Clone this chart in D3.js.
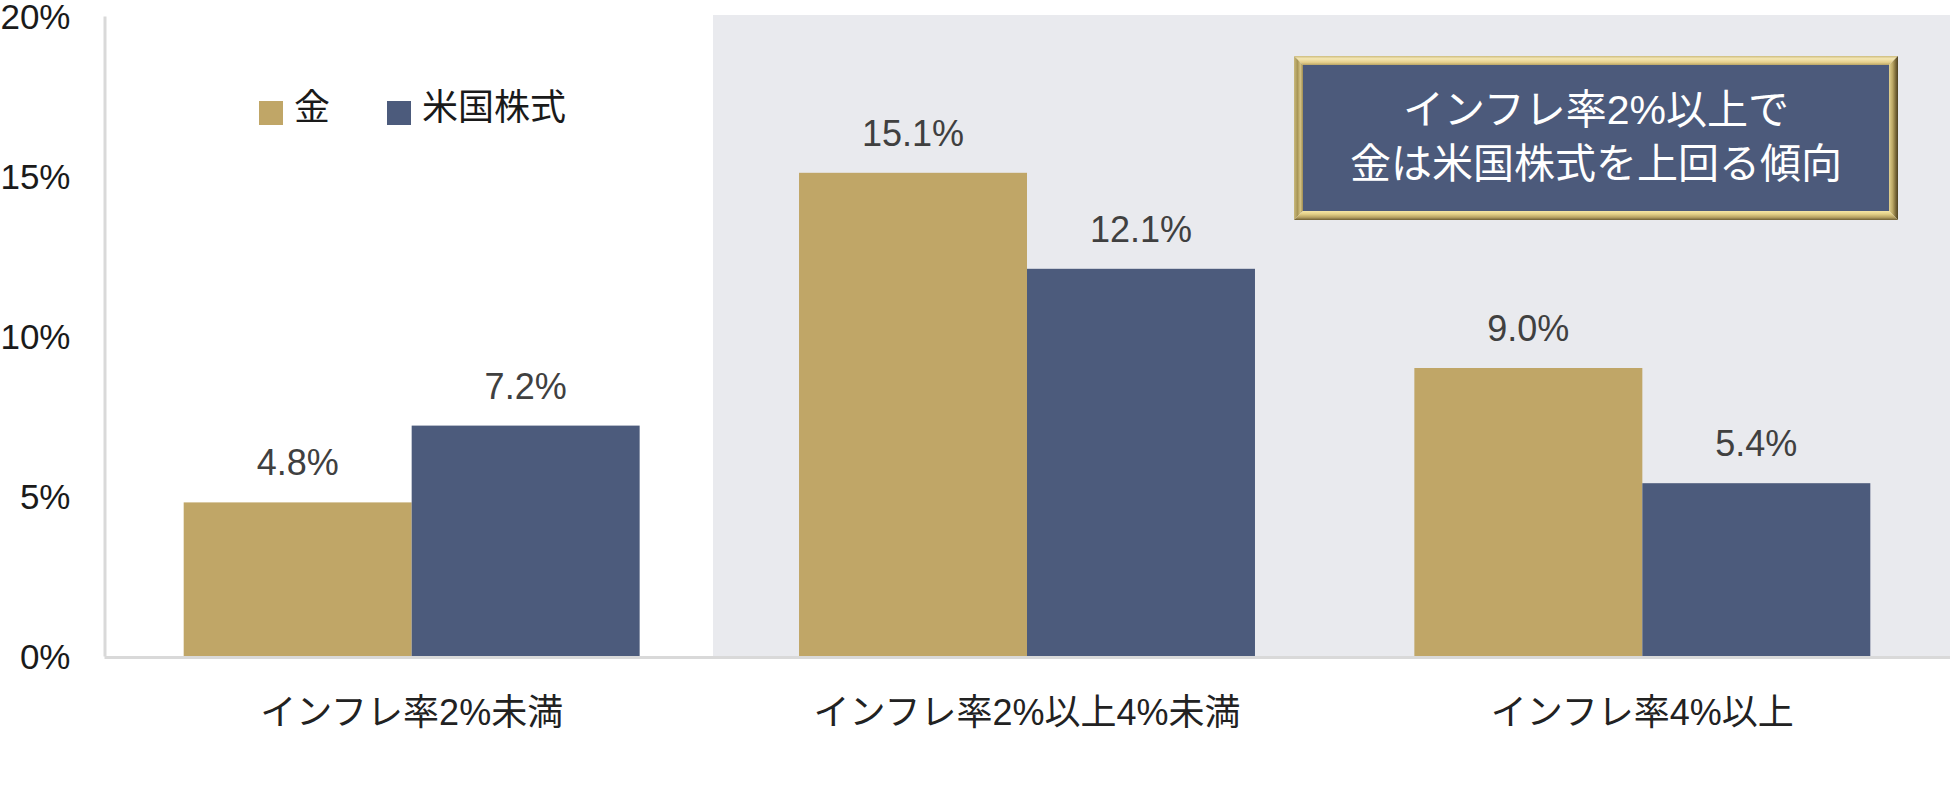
<!DOCTYPE html>
<html>
<head>
<meta charset="utf-8">
<script src="https://cdn.jsdelivr.net/npm/d3@7"></script>
<style>
  html, body { margin: 0; padding: 0; background: #ffffff; }
  svg { display: block; }
</style>
</head>
<body>
<div id="chart"></div>
<script>
const categories = ["インフレ率2%未満", "インフレ率2%以上4%未満", "インフレ率4%以上"];
const seriesNames = ["金", "米国株式"];
const goldValues = [4.8, 15.1, 9.0];
const stockValues = [7.2, 12.1, 5.4];
const yTicks = [0, 5, 10, 15, 20];
const noteLines = ["インフレ率2%以上で", "金は米国株式を上回る傾向"];

const W = 1950, H = 804;
const GOLD = "#C0A667", BLUE = "#4C5B7C";
const LATIN = "'Liberation Sans', Arial, 'Noto Sans CJK JP', sans-serif";

const svg = d3.select("#chart").append("svg")
  .attr("width", W).attr("height", H);

const plot = { left: 104, right: 1950, top: 16, bottom: 656 };

const x0 = d3.scaleBand().domain(categories)
  .range([plot.left, plot.right]).paddingInner(0.259).paddingOuter(0.1295);
const x1 = d3.scaleBand().domain(seriesNames).range([0, x0.bandwidth()]).padding(0);
const y = d3.scaleLinear().domain([0, 20]).range([plot.bottom, plot.top]);

// shaded highlight region (categories 2 and 3)
svg.append("rect")
  .attr("x", 713).attr("y", 15)
  .attr("width", W - 713).attr("height", plot.bottom - 15)
  .attr("fill", "#E9EAEE");

// bars
const rows = categories.map((c, i) => ({ cat: c, vals: [
  { s: seriesNames[0], v: goldValues[i], color: GOLD },
  { s: seriesNames[1], v: stockValues[i], color: BLUE }
]}));

const groups = svg.selectAll("g.grp").data(rows).enter().append("g")
  .attr("class", "grp")
  .attr("transform", d => `translate(${x0(d.cat)},0)`);

groups.selectAll("rect").data(d => d.vals).enter().append("rect")
  .attr("x", d => x1(d.s))
  .attr("y", d => y(d.v))
  .attr("width", x1.bandwidth())
  .attr("height", d => y(0) - y(d.v))
  .attr("fill", d => d.color);

groups.selectAll("text").data(d => d.vals).enter().append("text")
  .attr("x", d => x1(d.s) + x1.bandwidth() / 2)
  .attr("y", d => y(d.v) - 27)
  .attr("text-anchor", "middle")
  .attr("font-family", LATIN)
  .attr("font-size", 36)
  .attr("fill", "#404040")
  .text(d => d.v.toFixed(1) + "%");

// y axis
const yAxis = svg.append("g")
  .attr("transform", `translate(${plot.left + 0.5},0)`)
  .call(d3.axisLeft(y).tickValues(yTicks).tickFormat(d => d + "%").tickSize(0).tickPadding(34));
yAxis.select(".domain").attr("stroke", "#D9D9D9").attr("stroke-width", 3);
yAxis.selectAll("text")
  .attr("font-family", LATIN).attr("font-size", 35).attr("fill", "#1a1a1a")
  .attr("dy", "0.35em");

// x axis
const xAxis = svg.append("g")
  .attr("transform", `translate(0,${plot.bottom + 1})`)
  .call(d3.axisBottom(x0).tickSize(0).tickSizeOuter(0));
xAxis.select(".domain").attr("stroke", "#D9D9D9").attr("stroke-width", 3);
xAxis.selectAll("text")
  .attr("dy", null).attr("y", 68)
  .attr("font-family", LATIN).attr("font-size", 36).attr("fill", "#222222");

// legend
const legend = svg.append("g");
const legendItems = [
  { name: seriesNames[0], color: GOLD, x: 259, tx: 294 },
  { name: seriesNames[1], color: BLUE, x: 387, tx: 422 }
];
legendItems.forEach(it => {
  legend.append("rect").attr("x", it.x).attr("y", 101).attr("width", 24).attr("height", 24).attr("fill", it.color);
  legend.append("text").attr("x", it.tx).attr("y", 120)
    .attr("font-family", "'Noto Sans CJK JP', sans-serif").attr("font-size", 36).attr("fill", "#1a1a1a")
    .text(it.name);
});

// annotation box with gold bevel frame
const bx = 1294, by = 56, bw = 604, bh = 164, t = 9;
const defs = svg.append("defs");
function grad(id, x1_, y1_, x2_, y2_, stops) {
  const g = defs.append("linearGradient").attr("id", id)
    .attr("x1", x1_).attr("y1", y1_).attr("x2", x2_).attr("y2", y2_);
  stops.forEach(s => g.append("stop").attr("offset", s[0]).attr("stop-color", s[1]));
}
grad("gTop", "0", "0", "0", "1", [[0, "#CDBC7E"], [0.3, "#F4E7B4"], [0.7, "#E6D08C"], [1, "#B9A566"]]);
grad("gLeft", "0", "0", "1", "0", [[0, "#C9B97C"], [0.4, "#A89656"], [0.7, "#D5C384"], [1, "#9E8C52"]]);
grad("gRight", "0", "0", "1", "0", [[0, "#E2D190"], [0.4, "#BBA765"], [0.75, "#7A6838"], [1, "#4E4222"]]);
grad("gBottom", "0", "0", "0", "1", [[0, "#F5E6A6"], [0.35, "#E3CF86"], [0.7, "#B7A263"], [1, "#6F5F34"]]);

const frame = svg.append("g");
frame.append("polygon").attr("points", `${bx},${by} ${bx+bw},${by} ${bx+bw-t},${by+t} ${bx+t},${by+t}`).attr("fill", "url(#gTop)");
frame.append("polygon").attr("points", `${bx},${by} ${bx+t},${by+t} ${bx+t},${by+bh-t} ${bx},${by+bh}`).attr("fill", "url(#gLeft)");
frame.append("polygon").attr("points", `${bx+bw},${by} ${bx+bw},${by+bh} ${bx+bw-t},${by+bh-t} ${bx+bw-t},${by+t}`).attr("fill", "url(#gRight)");
frame.append("polygon").attr("points", `${bx},${by+bh} ${bx+t},${by+bh-t} ${bx+bw-t},${by+bh-t} ${bx+bw},${by+bh}`).attr("fill", "url(#gBottom)");
frame.append("rect").attr("x", bx + t).attr("y", by + t).attr("width", bw - 2*t).attr("height", bh - 2*t).attr("fill", "#4C5A7B");

frame.selectAll("text.note").data(noteLines).enter().append("text")
  .attr("class", "note")
  .attr("x", bx + bw / 2)
  .attr("y", (d, i) => 124 + i * 54)
  .attr("text-anchor", "middle")
  .attr("font-family", LATIN)
  .attr("font-size", 41)
  .attr("fill", "#ffffff")
  .text(d => d);
</script>
</body>
</html>
